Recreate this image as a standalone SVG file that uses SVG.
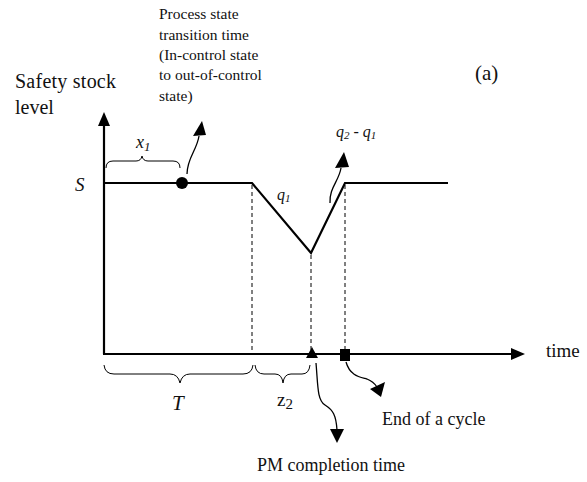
<svg xmlns="http://www.w3.org/2000/svg" width="587" height="482" viewBox="0 0 587 482">
<style>
.t{font-family:"Liberation Serif","Times New Roman",serif;fill:#111;}
.ln{stroke:#000;stroke-width:2.2;fill:none;}
.th{stroke:#000;stroke-width:1.3;fill:none;}
.ds{stroke:#000;stroke-width:1;stroke-dasharray:4,3;fill:none;}
.br{stroke:#000;stroke-width:1;fill:none;}
.hd{fill:#000;}
</style>
<rect width="587" height="482" fill="#fff"/>
<g id="axes">
<line class="ln" x1="104" y1="354" x2="104" y2="124"/>
<polygon class="hd" points="98,126 110,126 104,112"/>
<line class="ln" x1="103" y1="354" x2="513" y2="354"/>
<polygon class="hd" points="511,348 511,360 525,354"/>
</g>
<g id="stock-curve">
<polyline class="ln" points="104,183 252,183 311,253 345,183 448,183"/>
</g>
<g id="guides">
<line class="ds" x1="252" y1="185" x2="252" y2="353"/>
<line class="ds" x1="311" y1="255" x2="311" y2="353"/>
<line class="ds" x1="345" y1="185" x2="345" y2="353"/>
</g>
<g id="braces">
<path class="br" d="M106,168 Q106,161 113,161 L136,161 Q141,161 142,156 Q143,161 148,161 L173,161 Q180,161 180,168"/>
<path class="br" d="M104,365 Q105,374 114,374 L170,374 Q178,374 180,383 Q182,374 190,374 L243,374 Q252,374 253,365"/>
<path class="br" d="M255,365 Q256,374 264,374 L275,374 Q282,374 283,383 Q284,374 291,374 L302,374 Q309,374 310,365"/>
</g>
<g id="markers">
<circle cx="182" cy="183" r="6" fill="#000"/>
<polygon class="hd" points="306,358 318,358 312,347"/>
<rect x="340" y="349" width="10" height="12" fill="#000"/>
</g>
<g id="connectors">
<path class="th" d="M187,174 C187,158 197,150 199,136"/>
<polygon class="hd" points="193,136 206,135 202,121"/>
<path class="th" d="M330,203 C329,188 339,181 341,168"/>
<polygon class="hd" points="335,168 349,167 344,152"/>
<path class="th" d="M316,363 C318,385 317,400 325,405 C333,410 336,415 337,430"/>
<polygon class="hd" points="330,429 344,429 337,443"/>
<path class="th" d="M346,362 C350,376 360,377 367,379 C372,381 375,384 377,387"/>
<polygon class="hd" points="370,389 385,382 381,397"/>
</g>
<g id="labels">
<text class="t" x="15" y="88" font-size="20" textLength="101" lengthAdjust="spacing">Safety stock</text>
<text class="t" x="15" y="114" font-size="20">level</text>
<text class="t" x="75" y="191" font-size="19" font-style="italic">S</text>
<text class="t" x="159" y="19" font-size="15.5">Process state</text>
<text class="t" x="159" y="40" font-size="15.5">transition time</text>
<text class="t" x="159" y="60" font-size="15.5">(In-control state</text>
<text class="t" x="159" y="80" font-size="15.5">to out-of-control</text>
<text class="t" x="159" y="101" font-size="15.5">state)</text>
<text class="t" x="475" y="80" font-size="21">(a)</text>
<text class="t" x="136" y="148" font-size="18" font-style="italic">x<tspan font-size="13" dy="3">1</tspan></text>
<text class="t" x="277" y="200" font-size="16" font-style="italic">q<tspan font-size="11" dy="2">1</tspan></text>
<text class="t" x="336" y="137" font-size="16" font-style="italic">q<tspan font-size="11" dy="2">2</tspan><tspan dy="-2"> - q</tspan><tspan font-size="11" dy="2">1</tspan></text>
<text class="t" x="546" y="357" font-size="19">time</text>
<text class="t" x="172" y="410" font-size="21" font-style="italic">T</text>
<text class="t" x="277" y="406" font-size="19">z<tspan font-size="15" dy="3">2</tspan></text>
<text class="t" x="382" y="425" font-size="18">End of a cycle</text>
<text class="t" x="257" y="471" font-size="18">PM completion time</text>
</g>
</svg>
